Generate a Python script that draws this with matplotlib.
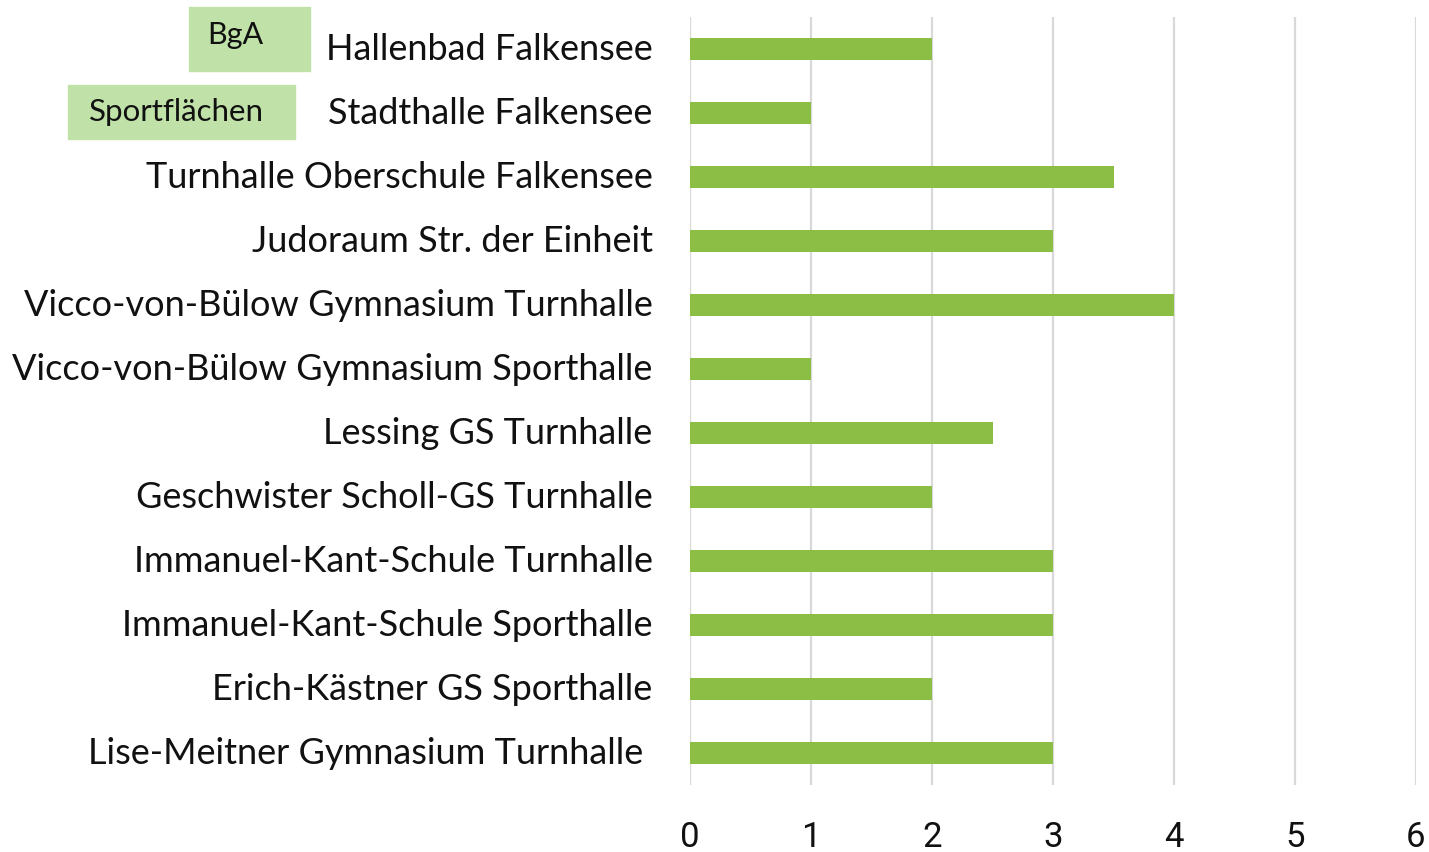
import matplotlib
matplotlib.use("Agg")
import matplotlib.pyplot as plt
from matplotlib.transforms import ScaledTranslation

categories = [
    "Hallenbad Falkensee",
    "Stadthalle Falkensee",
    "Turnhalle Oberschule Falkensee",
    "Judoraum Str. der Einheit",
    "Vicco-von-Bülow Gymnasium Turnhalle",
    "Vicco-von-Bülow Gymnasium Sporthalle",
    "Lessing GS Turnhalle",
    "Geschwister Scholl-GS Turnhalle",
    "Immanuel-Kant-Schule Turnhalle",
    "Immanuel-Kant-Schule Sporthalle",
    "Erich-Kästner GS Sporthalle",
    "Lise-Meitner Gymnasium Turnhalle ",
]
values = [2, 1, 3.5, 3, 4, 1, 2.5, 2, 3, 3, 2, 3]
xticks = [0, 1, 2, 3, 4, 5, 6]
box_labels = ["BgA", "Sportflächen"]

W, H = 1429, 852
fig = plt.figure(figsize=(W / 100, H / 100), dpi=100)
ax = fig.add_axes([690 / W, 1 - 785 / H, (1416 - 690) / W, (785 - 17) / H])

ypos = list(range(len(categories)))
ax.barh(ypos, values, height=0.34, color="#8CBE46", zorder=3)
ax.set_ylim(len(categories) - 0.5, -0.5)
ax.set_xlim(0, 6)
ax.set_xticks(xticks)
ax.set_xticklabels([str(t) for t in xticks], fontsize=25, family="Roboto", color="#111111")
ax.set_yticks(ypos)
ax.set_yticklabels(categories, fontsize=26, family="Lato", color="#111111")
ax.tick_params(axis="x", length=0, pad=26)
ax.tick_params(axis="y", length=0, pad=27)
offset = ScaledTranslation(0, 3 / 100, fig.dpi_scale_trans)
for lbl in ax.get_yticklabels():
    lbl.set_transform(lbl.get_transform() + offset)
ax.grid(axis="x", color="#D9D9D9", linewidth=1.6, zorder=0)
for s in ax.spines.values():
    s.set_visible(False)

# green label boxes
fig.patches.append(plt.Rectangle((189 / W, 1 - 71 / H), 121 / W, 64 / H,
                                 transform=fig.transFigure, color="#C0E2A8", zorder=1))
fig.patches.append(plt.Rectangle((68 / W, 1 - 139 / H), 227 / W, 54 / H,
                                 transform=fig.transFigure, color="#C0E2A8", zorder=1))
fig.text(235 / W, 1 - 35 / H, box_labels[0], fontsize=22, family="Lato",
         ha="center", va="center", color="#111111")
fig.text(176 / W, 1 - 112 / H, box_labels[1], fontsize=22.5, family="Lato",
         ha="center", va="center", color="#111111")

fig.savefig("out.png", dpi=100)
